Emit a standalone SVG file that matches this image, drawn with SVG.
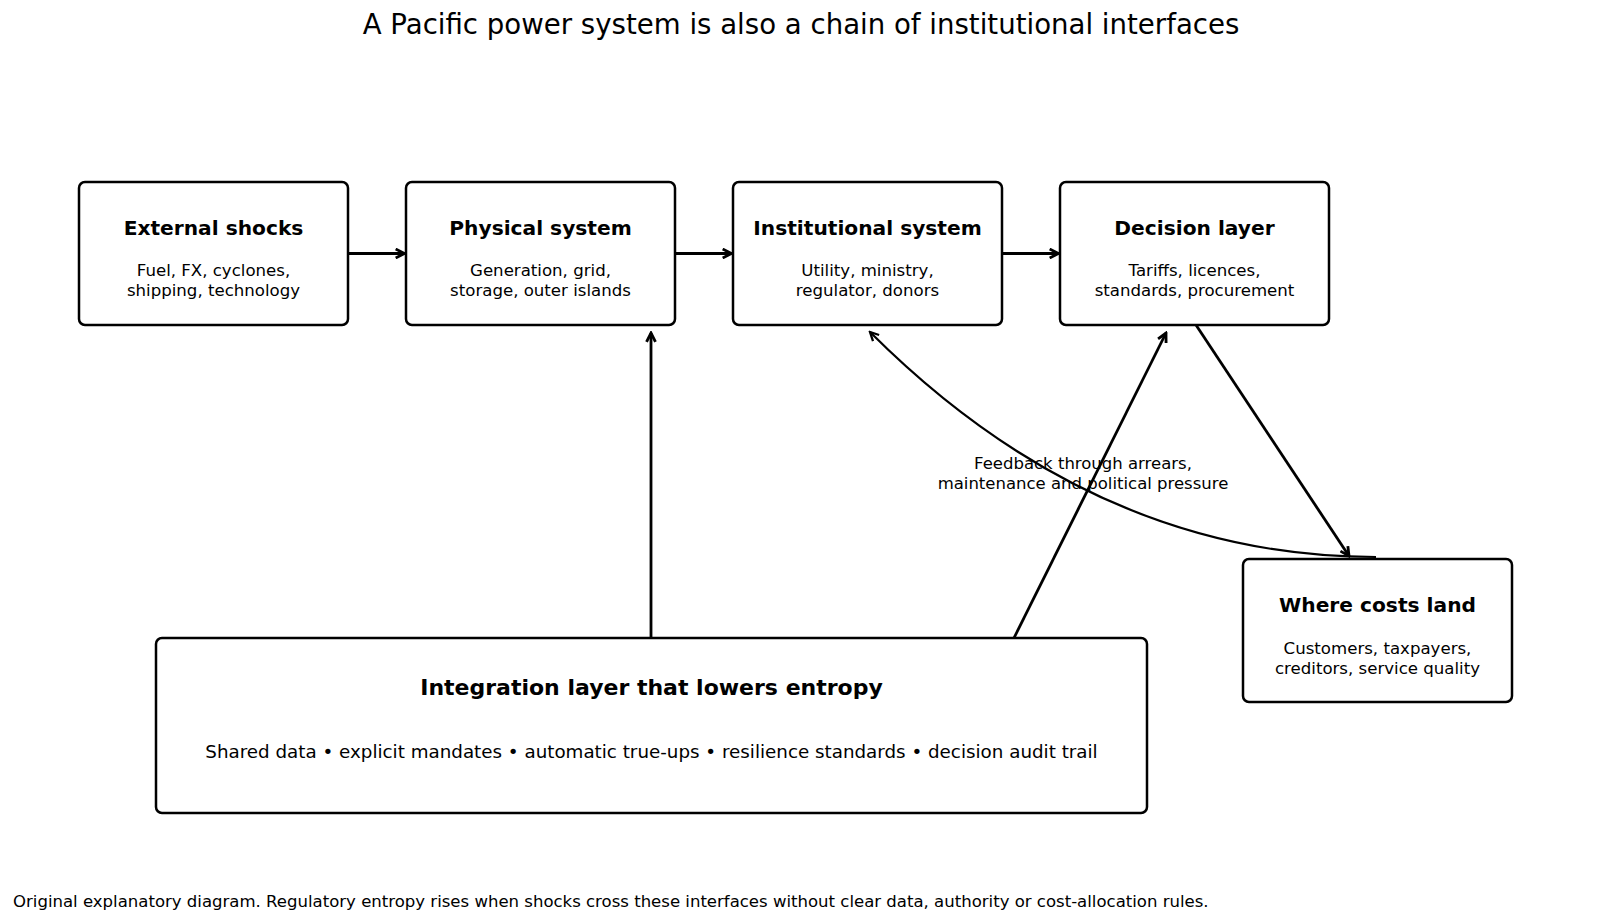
<svg xmlns="http://www.w3.org/2000/svg" width="1600" height="924" viewBox="0 0 1600 924">
<style>
  .box { fill: #ffffff; stroke: #000000; stroke-width: 2.5; }
  .t { font-family: "DejaVu Sans", sans-serif; fill: #000000; text-anchor: middle; }
  .nt { font-size: 20.2px; font-weight: bold; }
  .ns { font-size: 16.6px; }
  .conn { fill: none; stroke: #000000; stroke-width: 2.8; }
  .fb { fill: none; stroke: #000000; stroke-width: 2.2; }
</style>
<defs>
  <marker id="ah" viewBox="0 0 10 10" refX="8.5" refY="5" markerWidth="4.2" markerHeight="4.2" markerUnits="strokeWidth" orient="auto">
    <path d="M1,1.2 L8.5,5 L1,8.8" fill="none" stroke="#000" stroke-width="2.4"/>
  </marker>
  <marker id="ah2" viewBox="0 0 10 10" refX="8.5" refY="5" markerWidth="5.2" markerHeight="5.2" markerUnits="strokeWidth" orient="auto">
    <path d="M1,1.2 L8.5,5 L1,8.8" fill="none" stroke="#000" stroke-width="2"/>
  </marker>
</defs>
<rect width="1600" height="924" fill="#ffffff"/>
<text class="t" x="801" y="34" font-size="27.6">A Pacific power system is also a chain of institutional interfaces</text>

<g id="connectors">
  <line class="conn" x1="348" y1="253.5" x2="404.5" y2="253.5" marker-end="url(#ah)"/>
  <line class="conn" x1="675" y1="253.5" x2="731.5" y2="253.5" marker-end="url(#ah)"/>
  <line class="conn" x1="1002" y1="253.5" x2="1058.5" y2="253.5" marker-end="url(#ah)"/>
  <line class="conn" x1="651" y1="639" x2="651" y2="333" marker-end="url(#ah)"/>
  <line class="conn" x1="1013" y1="640" x2="1166" y2="333" marker-end="url(#ah)"/>
  <line class="conn" x1="1196" y1="325" x2="1349" y2="556" marker-end="url(#ah)"/>
  <path class="fb" d="M1376,557 Q1095,557 870,332" marker-end="url(#ah2)"/>
  <text class="t" x="1083" y="469" font-size="16.5">Feedback through arrears,</text>
  <text class="t" x="1083" y="489" font-size="16.5">maintenance and political pressure</text>
</g>

<g id="external-shocks">
  <rect class="box" x="79" y="182" width="269" height="143" rx="6"/>
  <text class="t nt" x="213.5" y="235">External shocks</text>
  <text class="t ns" x="213.5" y="276">Fuel, FX, cyclones,</text>
  <text class="t ns" x="213.5" y="296">shipping, technology</text>
</g>
<g id="physical-system">
  <rect class="box" x="406" y="182" width="269" height="143" rx="6"/>
  <text class="t nt" x="540.5" y="235">Physical system</text>
  <text class="t ns" x="540.5" y="276">Generation, grid,</text>
  <text class="t ns" x="540.5" y="296">storage, outer islands</text>
</g>
<g id="institutional-system">
  <rect class="box" x="733" y="182" width="269" height="143" rx="6"/>
  <text class="t nt" x="867.5" y="235">Institutional system</text>
  <text class="t ns" x="867.5" y="276">Utility, ministry,</text>
  <text class="t ns" x="867.5" y="296">regulator, donors</text>
</g>
<g id="decision-layer">
  <rect class="box" x="1060" y="182" width="269" height="143" rx="6"/>
  <text class="t nt" x="1194.5" y="235">Decision layer</text>
  <text class="t ns" x="1194.5" y="276">Tariffs, licences,</text>
  <text class="t ns" x="1194.5" y="296">standards, procurement</text>
</g>
<g id="where-costs-land">
  <rect class="box" x="1243" y="559" width="269" height="143" rx="6"/>
  <text class="t nt" x="1377.5" y="612">Where costs land</text>
  <text class="t ns" x="1377.5" y="654">Customers, taxpayers,</text>
  <text class="t ns" x="1377.5" y="674">creditors, service quality</text>
</g>
<g id="integration-layer">
  <rect class="box" x="156" y="638" width="991" height="175" rx="6"/>
  <text class="t" x="651.5" y="695" font-size="22" font-weight="bold">Integration layer that lowers entropy</text>
  <text class="t" x="651.5" y="758" font-size="18.3">Shared data • explicit mandates • automatic true-ups • resilience standards • decision audit trail</text>
</g>
<text x="13" y="907" font-family="DejaVu Sans, sans-serif" font-size="16.55" fill="#000">Original explanatory diagram. Regulatory entropy rises when shocks cross these interfaces without clear data, authority or cost-allocation rules.</text>
</svg>
